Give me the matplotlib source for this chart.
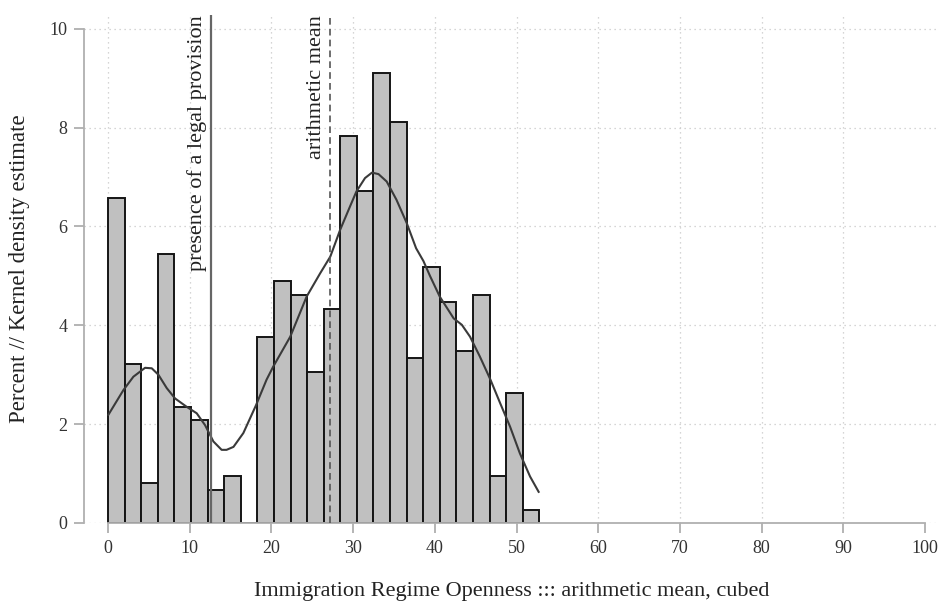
import matplotlib
matplotlib.use("Agg")
import matplotlib.pyplot as plt
import numpy as np

plt.rcParams['font.family'] = ['Liberation Serif', 'DejaVu Serif']

# Histogram: percent per bin (bins of equal width starting at 0)
bin_start = 0.0
bin_width = 2.03
percent = [6.57, 3.21, 0.81, 5.44, 2.35, 2.08, 0.675, 0.95, 0.0,
           3.76, 4.89, 4.61, 3.06, 4.33, 7.83, 6.71, 9.10, 8.11,
           3.34, 5.17, 4.47, 3.48, 4.61, 0.95, 2.64, 0.26]

# Kernel density estimate (scaled to percent)
kde_x = [0.04, 1.88, 3.1, 4.53, 5.35, 6.16, 7.18, 8.2, 9.63, 10.85, 11.87,
         12.89, 13.9, 14.5, 15.35, 16.56, 18.1, 19.4, 20.2, 22.3, 24.3,
         25.95, 27.2, 28.4, 29.6, 30.4, 31.45, 32.3, 33.1, 34.1, 35.3,
         36.55, 37.7, 38.6, 39.4, 40.6, 42.3, 43.3, 44.3, 45.5, 46.8,
         48.0, 49.2, 50.4, 51.65, 52.7]
kde_y = [2.19, 2.69, 2.96, 3.14, 3.13, 3.0, 2.73, 2.52, 2.35, 2.22, 1.98,
         1.65, 1.48, 1.48, 1.54, 1.82, 2.38, 2.9, 3.16, 3.77, 4.58,
         5.05, 5.39, 5.93, 6.40, 6.71, 6.98, 7.09, 7.06, 6.91, 6.54,
         6.07, 5.56, 5.3, 5.0, 4.58, 4.14, 4.01, 3.77, 3.37, 2.9,
         2.42, 1.95, 1.41, 0.94, 0.63]

legal_provision = 12.55
arith_mean = 27.15

x_ticks = [0, 10, 20, 30, 40, 50, 60, 70, 80, 90, 100]
y_ticks = [0, 2, 4, 6, 8, 10]

fig = plt.figure(figsize=(9.39, 6.03), dpi=100)
ax = fig.add_axes([0.0895, 0.1327, 0.9105, 0.8441])

ax.set_xlim(-2.94, 101.7)
ax.set_ylim(0, 10.3)

# dotted grid
grid_kw = dict(color='#c8c8c8', linestyle=(0, (1, 3)), linewidth=0.9, zorder=0)
for yt in y_ticks:
    ax.axhline(yt, **grid_kw)
for xt in x_ticks[:-1]:
    ax.axvline(xt, **grid_kw)

edges = bin_start + bin_width * np.arange(len(percent))
ax.bar(edges, percent, width=bin_width, align='edge', color='#c0c0c0',
       edgecolor='#151515', linewidth=1.4, zorder=2)

ax.plot(kde_x, kde_y, color='#3a3a3a', linewidth=1.5, zorder=3,
        solid_joinstyle='round')

ax.plot([legal_provision, legal_provision], [0, 10.28], color='#666666',
        linewidth=1.6, zorder=4, solid_capstyle='butt')
ax.plot([arith_mean, arith_mean], [0, 10.28], color='#555555',
        linewidth=1.2, linestyle=(0, (4, 2.5)), zorder=4)

ax.text(legal_provision - 0.45, 10.28, 'presence of a legal provision',
        rotation=90, ha='right', va='top', fontsize=16, color='#222222')
ax.text(arith_mean - 0.45, 10.28, 'arithmetic mean',
        rotation=90, ha='right', va='top', fontsize=16, color='#222222')

for s in ['top', 'right']:
    ax.spines[s].set_visible(False)
for s in ['left', 'bottom']:
    ax.spines[s].set_color('#b0b0b0')
    ax.spines[s].set_linewidth(1.3)
ax.spines['left'].set_bounds(0, 10)
ax.spines['bottom'].set_bounds(0, 100)

ax.set_xticks(x_ticks)
ax.set_yticks(y_ticks)
ax.tick_params(axis='both', direction='out', length=7, width=1.2,
               color='#a8a8a8', labelcolor='#333333', labelsize=13, pad=5)

ax.set_xlabel('Immigration Regime Openness ::: arithmetic mean, cubed',
              fontsize=16, color='#222222', labelpad=18)
ax.set_ylabel('Percent // Kernel density estimate', fontsize=16.5,
              color='#222222')
ax.yaxis.set_label_coords(-0.063, 0.5)

fig.savefig('out.png', dpi=100)
